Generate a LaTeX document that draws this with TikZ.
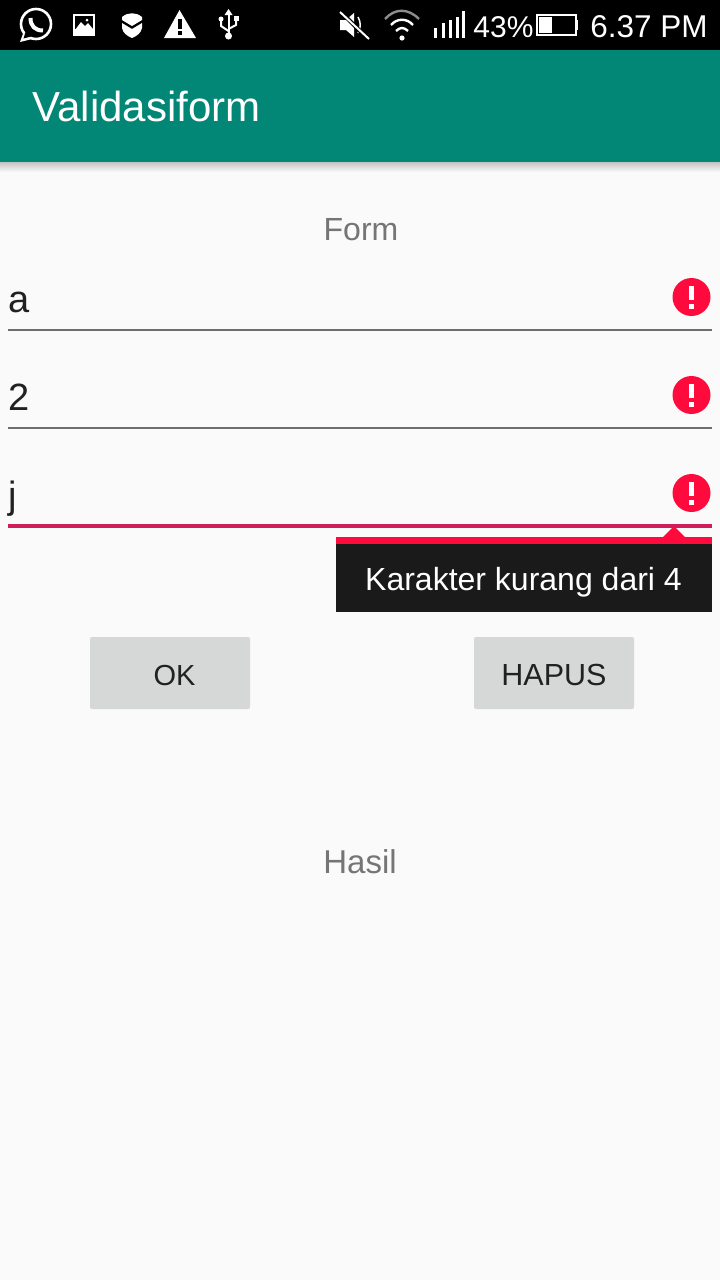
\documentclass[tikz,border=0pt]{standalone}
\usepackage{fontspec}
\setmainfont{Liberation Sans}
\usetikzlibrary{positioning}
\definecolor{appbar}{HTML}{028675}
\definecolor{pagebg}{HTML}{FAFAFA}
\definecolor{errred}{HTML}{FF0A3C}
\definecolor{fieldline}{HTML}{6E6E6E}
\definecolor{fieldactive}{HTML}{CE1F5B}
\definecolor{tipbg}{HTML}{1A1A1A}
\definecolor{btnbg}{HTML}{D6D7D7}
\definecolor{inktext}{HTML}{212121}
\definecolor{greytext}{HTML}{757575}
\tikzset{
  label/.style={inner sep=0pt, anchor=base, text=#1},
  button/.style={fill=btnbg, rounded corners=2pt},
  fieldrule/.style={draw=fieldline, line width=2pt},
  erricon/.pic={
    \fill[errred] (0,0) circle [radius=19];
    \fill[white] (-2.8,-11) rectangle (2.8,3);
    \fill[white] (-2.8,6.5) rectangle (2.8,11.5);
  },
}
\newcommand{\fs}[1]{\fontsize{#1}{#1}\selectfont}
\begin{document}
\begin{tikzpicture}[x=1pt, y=-1pt]
        \useasboundingbox (0, 0) rectangle (720, 1280);
        \fill[pagebg] (0, 0) rectangle (720, 1280);
        % status bar
        \fill[black] (0, 0) rectangle (720, 50);
        % app bar
        \shade[top color=black!22!pagebg, bottom color=pagebg] (0, 162) rectangle (720, 172);
        \fill[appbar] (0, 50) rectangle (720, 162);
        \node[label=white] (title) at (146.5, 121) {\fs{42}Validasiform};
        % status icons, left
        \draw[white, line width=2.6pt] (36, 24) circle [radius=15];
        \fill[white] (24, 31) -- (20, 42) -- (32, 39) -- cycle;
        \fill[black] (25.5, 32) -- (23.5, 38.5) -- (31, 36.5) -- cycle;
        \draw[white, line width=4pt] (30.5, 18) .. controls (30.5, 26) and (35, 30.5) .. (43, 30.5);
        \fill[white] (73, 14) rectangle (95, 36);
        \fill[black] (75, 16) rectangle (93, 29);
        \fill[white] (75, 30) -- (81, 22) -- (85, 26) -- (88, 23) -- (93, 29) -- (93, 34) -- (75, 34) -- cycle;
        \fill[white] (87, 20) circle [radius=1.5];
        \fill[white] (122, 17) .. controls (128, 12) and (136, 12) .. (142, 17) -- (142, 20) -- (132, 26) -- (122, 20) -- cycle;
        \fill[white] (122, 23) -- (132, 29) -- (142, 23) -- (142, 28) .. controls (141, 33) and (137, 36) .. (132, 38) .. controls (127, 36) and (123, 33) .. (122, 28) -- cycle;
        \fill[white] (179.5, 10) -- (196, 38) -- (164, 38) -- cycle;
        \fill[black] (177.5, 19) rectangle (181.5, 29);
        \fill[black] (177.5, 31) rectangle (181.5, 35);
        \draw[white, line width=2pt] (228.5, 14) -- (228.5, 36);
        \draw[white, line width=2pt] (228.5, 31) -- (221, 26) -- (221, 21);
        \draw[white, line width=2pt] (228.5, 29) -- (236, 25) -- (236, 20);
        \fill[white] (228.5, 9) -- (232.5, 15) -- (224.5, 15) -- cycle;
        \fill[white] (228.5, 36) circle [radius=3.5];
        \fill[white] (221, 19) circle [radius=2.5];
        \fill[white] (233.5, 16) rectangle (238.5, 21);
        % status icons, right
        \fill[white] (340, 20) -- (346, 20) -- (354, 13) -- (354, 37) -- (346, 30) -- (340, 30) -- cycle;
        \draw[white, line width=1.5pt] (358, 17) .. controls (361, 22) and (361, 28) .. (358, 33);
        \draw[black, line width=4pt] (340, 11) -- (369, 40);
        \draw[white, line width=2pt] (340, 12) -- (369, 39);
        \draw[white!55!black, line width=2.4pt] (385, 19) .. controls (395, 8) and (408, 8) .. (419, 19);
        \draw[white, line width=2.4pt] (391, 25) .. controls (397, 18) and (407, 18) .. (413, 25);
        \draw[white, line width=2.4pt] (396, 31) .. controls (400, 27) and (404, 27) .. (408, 31);
        \fill[white] (402, 38) circle [radius=2.6];
        \fill[white] (434, 28) rectangle (437, 38);
        \fill[white] (442, 23) rectangle (445, 38);
        \fill[white] (449, 20) rectangle (452, 38);
        \fill[white] (456, 17) rectangle (459, 38);
        \fill[white] (462, 11) rectangle (465, 38);
        \node[label=white] (battery) at (503.5, 37) {\fs{30}43\%};
        \draw[white, line width=2pt] (537, 15) rectangle (576, 35);
        \fill[white] (539, 17) rectangle (552, 33);
        \fill[white] (576, 20) rectangle (578, 30);
        \node[label=white] (clock) at (649, 37) {\fs{31.5}6.37 PM};
        % form
        \node[label=greytext] (form) at (361, 240) {\fs{32}Form};
        \node[label=inktext] (fielda) at (19, 312) {\fs{38}a};
        \node[label=inktext] (fieldb) at (19, 410) {\fs{38}2};
        \node[label=inktext] (fieldc) at (13, 508) {\fs{38}j};
        \draw[fieldrule] (8, 329.5) -- (712, 329.5);
        \draw[fieldrule] (8, 427.5) -- (712, 427.5);
        \draw[fieldactive, line width=4pt] (8, 526) -- (712, 526);
        \pic at (691.5, 297) {erricon};
        \pic at (691.5, 395) {erricon};
        \pic at (691.5, 493) {erricon};
        % error popup
        \fill[errred] (336, 537) rectangle (712, 544);
        \fill[errred] (662, 538) -- (674, 526) -- (686, 538) -- cycle;
        \fill[tipbg] (336, 544) rectangle (712, 612);
        \node[label=white] (tip) at (523.5, 590) {\fs{32}Karakter kurang dari 4};
        % buttons
        \fill[button] (90, 637) rectangle (250, 709);
        \fill[button] (474, 637) rectangle (634, 709);
        \node[label=inktext] (ok) at (174.5, 685) {\fs{29}OK};
        \node[label=inktext] (hapus) at (554, 685) {\fs{30.5}HAPUS};
        \node[label=greytext] (hasil) at (360, 873) {\fs{33}Hasil};
\end{tikzpicture}
\end{document}
